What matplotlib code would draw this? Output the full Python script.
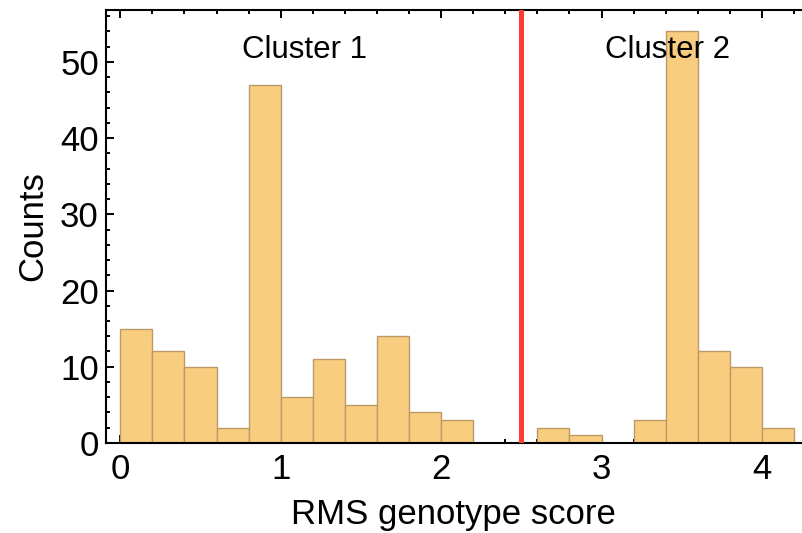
import matplotlib
matplotlib.use("Agg")
import matplotlib.pyplot as plt
from matplotlib.ticker import MultipleLocator

plt.rcParams['font.family'] = ['Liberation Sans', 'DejaVu Sans']

# histogram data, bins of width 0.2 starting at 0
bin_left = [0.0, 0.2, 0.4, 0.6, 0.8, 1.0, 1.2, 1.4, 1.6, 1.8, 2.0,
            2.2, 2.4, 2.6, 2.8, 3.0, 3.2, 3.4, 3.6, 3.8, 4.0]
counts = [15, 12, 10, 2, 47, 6, 11, 5, 14, 4, 3,
          0, 0, 2, 1, 0, 3, 54, 12, 10, 2]
bin_width = 0.2
cutoff = 2.5
cluster_labels = ['Cluster 1', 'Cluster 2']
cluster_x = [1.15, 3.41]

fig = plt.figure(figsize=(8.02, 5.33), dpi=100)
ax = fig.add_axes([0.132, 0.169, 0.868, 0.812])

ax.bar(bin_left, counts, width=bin_width, align='edge',
       color='#F9CD7F', edgecolor='#BC9A68', linewidth=1.0, zorder=2)
ax.axvline(cutoff, color='#FF3B30', linewidth=3.6, zorder=3)

for lab, xc in zip(cluster_labels, cluster_x):
    ax.text(xc, 51.6, lab, ha='center', va='center', fontsize=22.5, zorder=4)

ax.set_xlim(-0.09, 4.25)
ax.set_ylim(0, 56.8)

ax.xaxis.set_major_locator(MultipleLocator(1))
ax.xaxis.set_minor_locator(MultipleLocator(0.2))
ax.yaxis.set_major_locator(MultipleLocator(10))
ax.yaxis.set_minor_locator(MultipleLocator(2))

ax.spines['right'].set_visible(False)
for s in ['left', 'top', 'bottom']:
    ax.spines[s].set_linewidth(1.5)

ax.tick_params(axis='both', which='both', direction='in', width=1.4,
               labelsize=25, top=True, right=False, zorder=5)
ax.tick_params(axis='both', which='major', length=5.5)
ax.tick_params(axis='both', which='minor', length=3)
ax.tick_params(axis='x', which='major', pad=7)
ax.tick_params(axis='y', which='major', pad=5)

ax.set_xlabel('RMS genotype score', fontsize=25, labelpad=9)
ax.set_ylabel('Counts', fontsize=25, labelpad=8)

fig.savefig('out.png', dpi=100)
